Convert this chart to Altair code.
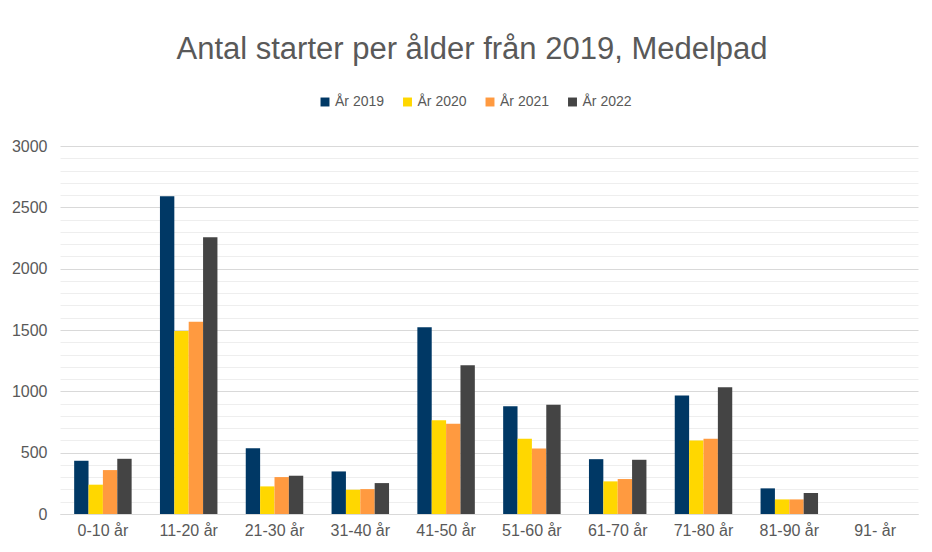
import altair as alt
import pandas as pd

categories = ["0-10 år", "11-20 år", "21-30 år", "31-40 år", "41-50 år",
              "51-60 år", "61-70 år", "71-80 år", "81-90 år", "91- år"]
series = ["År 2019", "År 2020", "År 2021", "År 2022"]
y2019 = [434, 2590, 537, 347, 1522, 879, 447, 966, 209, 0]
y2020 = [239, 1492, 225, 198, 765, 613, 266, 599, 119, 0]
y2021 = [358, 1568, 301, 203, 735, 534, 285, 613, 119, 0]
y2022 = [450, 2257, 312, 252, 1212, 890, 442, 1033, 171, 0]
colors = ["#003865", "#FFD700", "#FF9A40", "#444444"]
major_ticks = [0, 500, 1000, 1500, 2000, 2500, 3000]
minor_ticks = [v for v in range(0, 3001, 100) if v % 500]

rows = []
for s, vals in zip(series, [y2019, y2020, y2021, y2022]):
    for c, v in zip(categories, vals):
        rows.append({"category": c, "series": s, "value": v})
df = pd.DataFrame(rows)

FONT = "Liberation Sans"
TXT = "#595959"

yscale = alt.Scale(domain=[0, 3000], nice=False)

minor = alt.Chart(df).mark_point(opacity=0).encode(
    y=alt.Y("value:Q", scale=yscale,
            axis=alt.Axis(title=None, values=minor_ticks, labels=False, ticks=False,
                          domain=False, grid=True, gridColor="#eeeeee", gridWidth=1,
                          orient="right"))
)

bars = alt.Chart(df).mark_bar().encode(
    x=alt.X("category:N", sort=categories,
            scale=alt.Scale(paddingInner=0.33, paddingOuter=0.165),
            axis=alt.Axis(title=None, labelAngle=0, labelFontSize=16, labelColor=TXT,
                          labelFont=FONT, ticks=False, domain=True, domainColor="#d9d9d9",
                          domainWidth=1, labelPadding=8, grid=False)),
    xOffset=alt.XOffset("series:N", sort=series),
    y=alt.Y("value:Q", scale=yscale,
            axis=alt.Axis(title=None, values=major_ticks, format="d", labelFontSize=16,
                          labelColor=TXT, labelFont=FONT, ticks=False, domain=False,
                          grid=True, gridColor="#d9d9d9", gridWidth=1, labelPadding=13,
                          orient="left")),
    color=alt.Color("series:N", sort=series,
                    scale=alt.Scale(domain=series, range=colors),
                    legend=alt.Legend(title=None, orient="none", direction="horizontal",
                                      legendX=258, legendY=-51, symbolType="square",
                                      symbolSize=80, symbolStrokeWidth=0,
                                      labelFontSize=14, labelColor=TXT, labelFont=FONT,
                                      columnPadding=15.5, labelOffset=3)),
)

chart = alt.layer(minor, bars).resolve_axis(y="independent").properties(
    width=858, height=368,
    background="white",
    title=alt.Title("Antal starter per ålder från 2019, Medelpad", fontSize=31,
                    color=TXT, font=FONT, fontWeight="normal", anchor="middle",
                    offset=29, dx=-17),
    autosize=alt.AutoSizeParams(type="none"),
    padding={"left": 52, "top": 138, "right": 6, "bottom": 30},
).configure_view(stroke="transparent", strokeWidth=0)

chart.save("out.html", embed_options={"renderer": "svg", "actions": False})
